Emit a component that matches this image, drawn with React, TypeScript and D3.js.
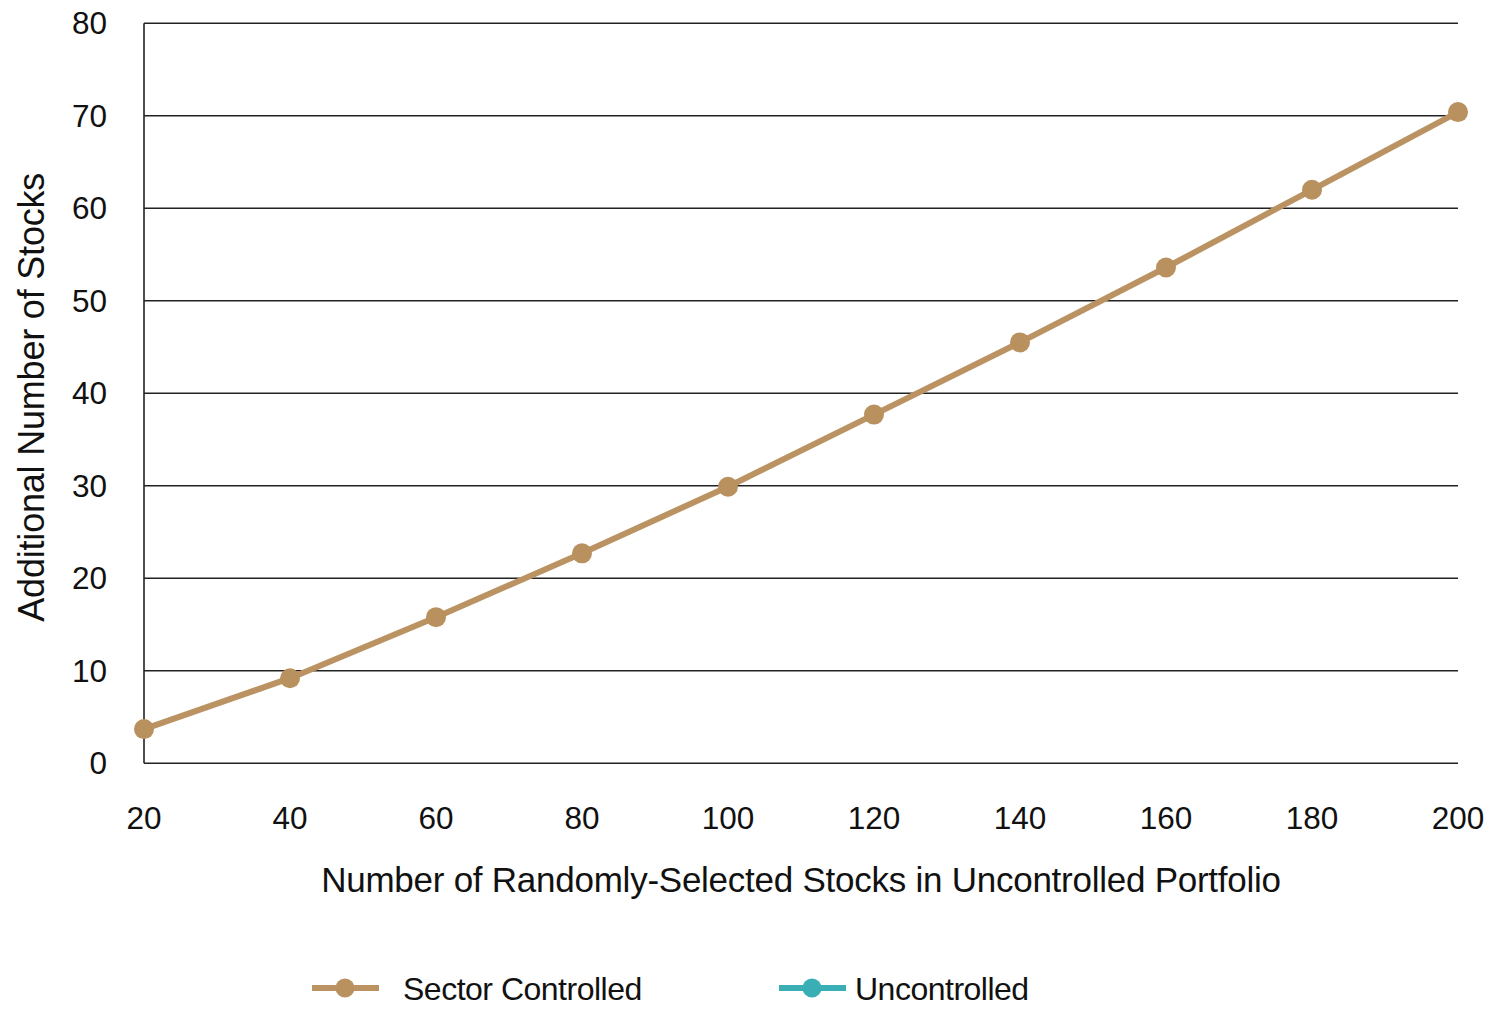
import React, { useEffect, useRef } from "react";
import * as d3 from "d3";

const xValues = [20, 40, 60, 80, 100, 120, 140, 160, 180, 200];
const sectorControlled = [3.7, 9.2, 15.8, 22.7, 29.9, 37.7, 45.5, 53.6, 62.0, 70.4];
const yTicks = [0, 10, 20, 30, 40, 50, 60, 70, 80];
const xTicks = [20, 40, 60, 80, 100, 120, 140, 160, 180, 200];
const seriesNames = ["Sector Controlled", "Uncontrolled"];
const seriesColors = ["#bb9363", "#39aeb5"];
const xTitle = "Number of Randomly-Selected Stocks in Uncontrolled Portfolio";
const yTitle = "Additional Number of Stocks";

const W = 1500;
const H = 1013;
const FONT = "'Liberation Sans', Arial, sans-serif";

export default function App() {
  const ref = useRef<SVGSVGElement | null>(null);

  useEffect(() => {
    const svg = d3.select(ref.current);
    svg.selectAll("*").remove();
    const left = 144, right = 1458, top = 23.3, bottom = 763.3;
    const x = d3.scaleLinear().domain([20, 200]).range([left, right]);
    const y = d3.scaleLinear().domain([0, 80]).range([bottom, top]);

    // gridlines
    svg.append("g").selectAll("line").data(yTicks).join("line")
      .attr("x1", left).attr("x2", right)
      .attr("y1", (d) => y(d)).attr("y2", (d) => y(d))
      .attr("stroke", "#222").attr("stroke-width", 1.6);
    // left axis line
    svg.append("line").attr("x1", left).attr("x2", left)
      .attr("y1", y(80)).attr("y2", y(0))
      .attr("stroke", "#222").attr("stroke-width", 1.6);

    // y tick labels
    svg.append("g").selectAll("text").data(yTicks).join("text")
      .attr("x", 107).attr("y", (d) => y(d) + 11)
      .attr("text-anchor", "end")
      .attr("font-family", FONT).attr("font-size", 31.5).attr("fill", "#111")
      .text((d) => String(d));
    // x tick labels
    svg.append("g").selectAll("text").data(xTicks).join("text")
      .attr("x", (d) => x(d)).attr("y", 829)
      .attr("text-anchor", "middle")
      .attr("font-family", FONT).attr("font-size", 31.5).attr("fill", "#111")
      .text((d) => String(d));

    // titles
    svg.append("text").attr("x", (left + right) / 2).attr("y", 892)
      .attr("text-anchor", "middle").attr("font-family", FONT)
      .attr("font-size", 35).attr("letter-spacing", -0.25).attr("fill", "#111")
      .text(xTitle);
    svg.append("text")
      .attr("transform", `translate(44,${(top + bottom) / 2 + 4}) rotate(-90)`)
      .attr("text-anchor", "middle").attr("font-family", FONT)
      .attr("font-size", 36).attr("letter-spacing", -0.2).attr("fill", "#111")
      .text(yTitle);

    const data = xValues.map((v, i) => ({ x: v, y: sectorControlled[i] }));
    const line = d3.line<{ x: number; y: number }>().x((d) => x(d.x)).y((d) => y(d.y));
    svg.append("path").datum(data).attr("d", line)
      .attr("fill", "none").attr("stroke", seriesColors[0]).attr("stroke-width", 6)
      .attr("stroke-linejoin", "round");
    svg.append("g").selectAll("circle").data(data).join("circle")
      .attr("cx", (d) => x(d.x)).attr("cy", (d) => y(d.y)).attr("r", 10)
      .attr("fill", "#b9915f");

    // legend
    const legendItems = [
      { x0: 312, tx: 403 },
      { x0: 779, tx: 855 },
    ];
    legendItems.forEach((it, i) => {
      const g = svg.append("g");
      g.append("line").attr("x1", it.x0).attr("x2", it.x0 + 67)
        .attr("y1", 988).attr("y2", 988)
        .attr("stroke", seriesColors[i]).attr("stroke-width", 6);
      g.append("circle").attr("cx", it.x0 + 33).attr("cy", 988).attr("r", 9.5)
        .attr("fill", i === 0 ? "#b9915f" : seriesColors[1]);
      g.append("text").attr("x", it.tx).attr("y", 1000)
        .attr("font-family", FONT).attr("font-size", 32).attr("letter-spacing", -0.5)
        .attr("fill", "#111").text(seriesNames[i]);
    });
  }, []);

  return (
    <svg ref={ref} width={W} height={H} style={{ position: "absolute", left: 0, top: 0, background: "#fff" }} />
  );
}
